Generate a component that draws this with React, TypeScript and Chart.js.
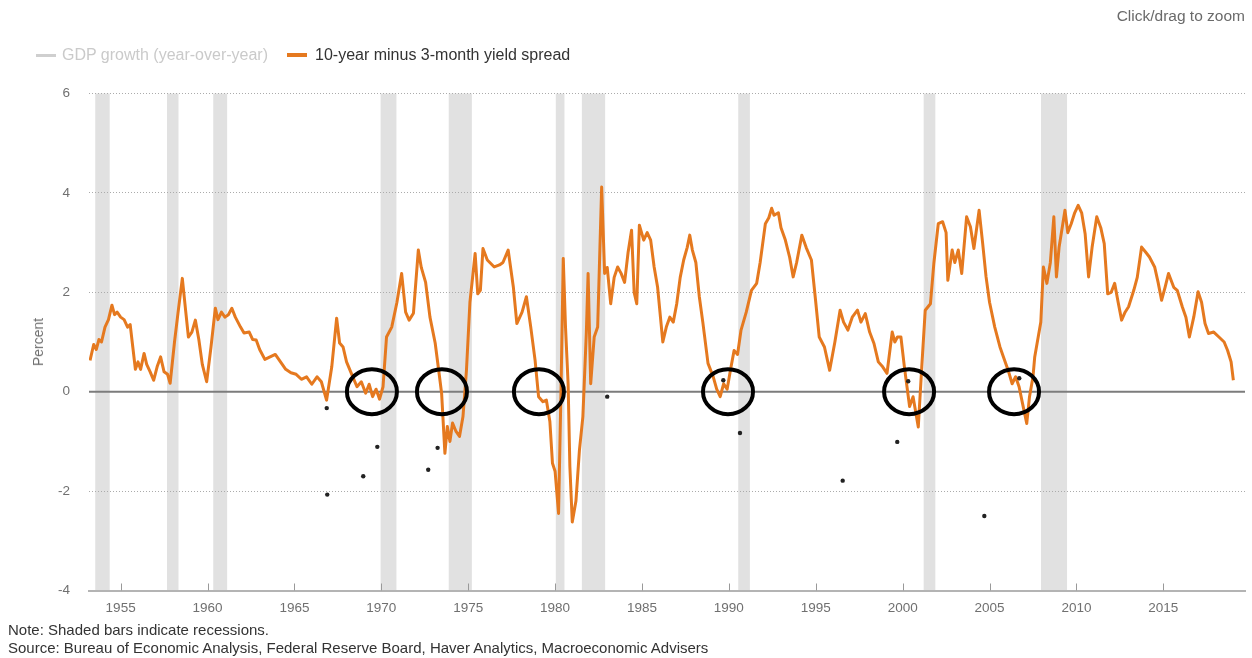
import React, { useEffect, useRef } from "react";
import { Chart, registerables } from "chart.js";
Chart.register(...registerables);

// 10-year minus 3-month yield spread (percent)
const spreadYears = [
  1953.24, 1953.45, 1953.6, 1953.75, 1953.9, 1954.1, 1954.3, 1954.5, 1954.65, 1954.8,
  1955.0, 1955.2, 1955.4, 1955.55, 1955.7, 1955.85, 1956.0, 1956.15, 1956.35, 1956.5,
  1956.7, 1956.9, 1957.1, 1957.3, 1957.5, 1957.7, 1957.85, 1958.1, 1958.3, 1958.55,
  1958.75, 1958.9, 1959.1, 1959.3, 1959.5, 1959.7, 1959.95, 1960.2, 1960.45, 1960.6,
  1960.8, 1961.0, 1961.2, 1961.4, 1961.6, 1961.9, 1962.1, 1962.4, 1962.6, 1962.8,
  1963.0, 1963.3, 1963.6, 1963.9, 1964.2, 1964.5, 1964.8, 1965.1, 1965.4, 1965.7,
  1966.0, 1966.3, 1966.55, 1966.85, 1967.15, 1967.43, 1967.6, 1967.8, 1968.0, 1968.3,
  1968.6, 1968.85, 1969.1, 1969.3, 1969.5, 1969.7, 1969.9, 1970.1, 1970.3, 1970.6,
  1970.9, 1971.17, 1971.4, 1971.6, 1971.85, 1972.13, 1972.3, 1972.55, 1972.8, 1973.1,
  1973.35, 1973.47, 1973.66, 1973.8, 1973.95, 1974.1, 1974.3, 1974.5, 1974.7, 1974.9,
  1975.1, 1975.4, 1975.55, 1975.7, 1975.85, 1976.1, 1976.5, 1976.8, 1977.0, 1977.3,
  1977.6, 1977.8, 1978.1, 1978.35, 1978.6, 1978.85, 1979.05, 1979.3, 1979.5, 1979.7,
  1979.85, 1980.0, 1980.2, 1980.35, 1980.47, 1980.6, 1980.75, 1980.85, 1980.99, 1981.2,
  1981.4, 1981.6, 1981.8, 1981.9, 1982.05, 1982.25, 1982.45, 1982.68, 1982.85, 1983.0,
  1983.2, 1983.4, 1983.6, 1983.8, 1984.0, 1984.2, 1984.4, 1984.55, 1984.7, 1984.85,
  1985.1, 1985.3, 1985.5, 1985.7, 1985.9, 1986.2, 1986.4, 1986.6, 1986.8, 1987.0,
  1987.2, 1987.4, 1987.6, 1987.75, 1987.9, 1988.1, 1988.3, 1988.5, 1988.8, 1989.1,
  1989.3, 1989.5, 1989.7, 1989.9, 1990.1, 1990.3, 1990.5, 1990.7, 1991.0, 1991.3,
  1991.6, 1991.8, 1992.1, 1992.3, 1992.46, 1992.6, 1992.85, 1993.0, 1993.25, 1993.5,
  1993.7, 1993.9, 1994.2, 1994.45, 1994.75, 1995.0, 1995.2, 1995.5, 1995.8, 1996.1,
  1996.4, 1996.6, 1996.85, 1997.1, 1997.4, 1997.6, 1997.85, 1998.1, 1998.35, 1998.6,
  1998.85, 1999.1, 1999.4, 1999.55, 1999.7, 1999.9, 2000.1, 2000.4, 2000.6, 2000.9,
  2001.1, 2001.3, 2001.6, 2001.8, 2002.05, 2002.3, 2002.5, 2002.6, 2002.85, 2003.0,
  2003.2, 2003.4, 2003.68, 2003.9, 2004.1, 2004.4, 2004.6, 2004.8, 2005.0, 2005.3,
  2005.6, 2005.8, 2006.1, 2006.3, 2006.5, 2006.7, 2006.9, 2007.14, 2007.3, 2007.5,
  2007.6, 2007.8, 2007.95, 2008.1, 2008.3, 2008.5, 2008.7, 2008.85, 2009.0, 2009.34,
  2009.5, 2009.7, 2009.9, 2010.1, 2010.3, 2010.5, 2010.7, 2010.9, 2011.17, 2011.4,
  2011.6, 2011.8, 2012.0, 2012.2, 2012.4, 2012.6, 2012.8, 2013.0, 2013.3, 2013.5,
  2013.75, 2014.0, 2014.2, 2014.5, 2014.7, 2014.9, 2015.1, 2015.3, 2015.6, 2015.8,
  2016.1, 2016.3, 2016.5, 2016.75, 2017.0, 2017.2, 2017.4, 2017.6, 2017.9, 2018.2,
  2018.5, 2018.7, 2018.9, 2019.03,
];
const spreadValues = [
  0.63, 0.95, 0.85, 1.05, 1.0, 1.3, 1.45, 1.74, 1.55, 1.6,
  1.5, 1.45, 1.3, 1.35, 0.9, 0.45, 0.6, 0.45, 0.77, 0.55,
  0.4, 0.23, 0.5, 0.7, 0.4, 0.35, 0.17, 1.0, 1.58, 2.28,
  1.6, 1.1, 1.2, 1.44, 1.05, 0.55, 0.2, 0.9, 1.68, 1.45,
  1.6, 1.5, 1.55, 1.68, 1.5, 1.3, 1.18, 1.2, 1.05, 1.04,
  0.85, 0.65, 0.7, 0.75, 0.6, 0.45, 0.38, 0.35, 0.25, 0.3,
  0.15, 0.3, 0.2, -0.17, 0.5, 1.48, 0.98, 0.9, 0.6, 0.35,
  0.1, 0.2, -0.03, 0.15, -0.1, 0.05, -0.15, 0.1, 1.1, 1.3,
  1.8, 2.38, 1.6, 1.44, 1.58, 2.85, 2.5, 2.2, 1.5, 0.98,
  0.3, -0.03, -1.24, -0.7, -1.0, -0.63, -0.8, -0.9, -0.5, 0.43,
  1.8, 2.78, 1.97, 2.04, 2.88, 2.65, 2.51, 2.55, 2.6, 2.85,
  2.1, 1.37, 1.6, 1.91, 1.3, 0.63, -0.1, -0.2, -0.17, -0.6,
  -1.44, -1.6, -2.45, 0.2, 2.68, 1.3, 0.16, -1.5, -2.62, -2.2,
  -1.18, -0.5, 1.2, 2.38, 0.16, 1.1, 1.3, 4.12, 2.38, 2.5,
  1.77, 2.3, 2.51, 2.38, 2.2, 2.8, 3.25, 2.0, 1.77, 3.35,
  3.05, 3.2, 3.05, 2.51, 2.1, 1.0, 1.3, 1.5, 1.4, 1.77,
  2.3, 2.65, 2.9, 3.15, 2.85, 2.6, 1.91, 1.4, 0.57, 0.3,
  0.05, -0.1, 0.16, 0.05, 0.45, 0.83, 0.75, 1.24, 1.6, 2.04,
  2.18, 2.6, 3.38, 3.5, 3.69, 3.55, 3.6, 3.3, 3.05, 2.7,
  2.31, 2.6, 3.15, 2.9, 2.65, 1.8, 1.1, 0.9, 0.43, 1.0,
  1.64, 1.4, 1.24, 1.5, 1.64, 1.4, 1.57, 1.2, 0.97, 0.6,
  0.5, 0.37, 1.2, 1.0, 1.1, 1.1, 0.5, -0.3, -0.1, -0.71,
  0.5, 1.64, 1.77, 2.6, 3.38, 3.42, 3.2, 2.24, 2.85, 2.6,
  2.85, 2.38, 3.52, 3.32, 2.88, 3.65, 3.0, 2.31, 1.8, 1.3,
  0.9, 0.7, 0.4, 0.16, 0.3, 0.1, -0.24, -0.64, -0.1, 0.3,
  0.7, 1.1, 1.4, 2.51, 2.18, 2.6, 3.52, 2.31, 2.9, 3.65,
  3.2, 3.38, 3.6, 3.75, 3.6, 3.18, 2.31, 2.9, 3.52, 3.3,
  2.98, 1.97, 2.0, 2.18, 1.8, 1.44, 1.6, 1.71, 2.04, 2.3,
  2.91, 2.8, 2.71, 2.51, 2.2, 1.84, 2.1, 2.38, 2.1, 2.04,
  1.7, 1.5, 1.1, 1.5, 2.01, 1.8, 1.37, 1.17, 1.2, 1.1,
  1.0, 0.83, 0.6, 0.23,
];

// small dark dots
const dotYears = [1966.86, 1966.89, 1968.96, 1969.77, 1972.7, 1973.24, 1983.0, 1989.68, 1990.64, 1996.55, 1999.69, 2000.32, 2004.7, 2006.71];
const dotValues = [-0.33, -2.07, -1.7, -1.11, -1.57, -1.13, -0.1, 0.23, -0.83, -1.79, -1.01, 0.21, -2.5, 0.27];

// recessions (shaded bars)
const recessionStarts = [1953.54, 1957.67, 1960.33, 1969.96, 1973.88, 1980.04, 1981.54, 1990.54, 2001.21, 2007.96];
const recessionEnds = [1954.37, 1958.33, 1961.13, 1970.87, 1975.21, 1980.54, 1982.88, 1991.21, 2001.88, 2009.46];

// hand-drawn circles around the zero line
const circleYears = [1969.46, 1973.49, 1979.07, 1989.95, 2000.37, 2006.41];

const xTickYears = [1955, 1960, 1965, 1970, 1975, 1980, 1985, 1990, 1995, 2000, 2005, 2010, 2015];
const yTicks = [-4, -2, 0, 2, 4, 6];

const FONT = '"Liberation Sans", Arial, sans-serif';
const ORANGE = "#E5791F";

export default function App() {
  const ref = useRef<HTMLCanvasElement>(null);

  useEffect(() => {
    const overlay = {
      id: "overlay",
      beforeDraw(chart: any) {
        const { ctx, chartArea, scales } = chart;
        const xs = scales.x;
        ctx.save();
        ctx.fillStyle = "#e1e1e1";
        recessionStarts.forEach((s, i) => {
          const x1 = xs.getPixelForValue(s);
          const x2 = xs.getPixelForValue(recessionEnds[i]);
          ctx.fillRect(x1, chartArea.top, x2 - x1, chartArea.bottom - chartArea.top);
        });
        ctx.restore();
      },
      beforeDatasetsDraw(chart: any) {
        const { ctx, chartArea, scales } = chart;
        const y0 = scales.y.getPixelForValue(0);
        ctx.save();
        ctx.strokeStyle = "#7c7c7c";
        ctx.lineWidth = 2;
        ctx.beginPath();
        ctx.moveTo(chartArea.left, y0);
        ctx.lineTo(chartArea.right, y0);
        ctx.stroke();
        ctx.restore();
      },
      afterDatasetsDraw(chart: any) {
        const { ctx, scales } = chart;
        const y0 = scales.y.getPixelForValue(0);
        ctx.save();
        ctx.strokeStyle = "#000";
        ctx.lineWidth = 4;
        circleYears.forEach((yr) => {
          const cx = scales.x.getPixelForValue(yr);
          ctx.beginPath();
          ctx.ellipse(cx, y0, 25, 22.5, 0, 0, Math.PI * 2);
          ctx.stroke();
        });
        ctx.restore();
      },
      afterDraw(chart: any) {
        const { ctx, chartArea, scales } = chart;
        ctx.save();
        ctx.strokeStyle = "#999";
        ctx.lineWidth = 1;
        xTickYears.forEach((yr) => {
          const x = Math.round(scales.x.getPixelForValue(yr)) + 0.5;
          ctx.beginPath();
          ctx.moveTo(x, chartArea.bottom);
          ctx.lineTo(x, chartArea.bottom - 7);
          ctx.stroke();
        });
        ctx.restore();
      },
    };

    const chart = new Chart(ref.current as HTMLCanvasElement, {
      type: "line",
      data: {
        datasets: [
          {
            type: "scatter",
            label: "dots",
            data: dotYears.map((x, i) => ({ x, y: dotValues[i] })),
            pointRadius: 2.2,
            pointBackgroundColor: "#222",
            pointBorderWidth: 0,
            showLine: false,
          } as any,
          {
            label: "10-year minus 3-month yield spread",
            data: spreadYears.map((x, i) => ({ x, y: spreadValues[i] })),
            borderColor: ORANGE,
            borderWidth: 3,
            pointRadius: 0,
            tension: 0,
            borderJoinStyle: "round",
            fill: false,
          },
        ],
      },
      options: {
        animation: false,
        responsive: false,
        devicePixelRatio: 1,
        layout: { padding: { top: 93.5, left: 0, right: 7, bottom: 0 } },
        plugins: { legend: { display: false }, tooltip: { enabled: false } },
        scales: {
          x: {
            type: "linear",
            min: 1953.18,
            max: 2019.7,
            afterFit(scale: any) {
              scale.height = 67.5;
            },
            afterBuildTicks(scale: any) {
              scale.ticks = xTickYears.map((v) => ({ value: v }));
            },
            grid: { display: false, drawTicks: false },
            border: { display: true, color: "#b4b4b4", width: 2 },
            ticks: {
              padding: 10,
              color: "#707070",
              font: { family: FONT, size: 13.5 },
              maxRotation: 0,
              autoSkip: false,
              callback: (v: any) => String(v),
            },
          },
          y: {
            type: "linear",
            min: -4,
            max: 6,
            afterFit(scale: any) {
              scale.width = 89;
            },
            afterBuildTicks(scale: any) {
              scale.ticks = yTicks.map((v) => ({ value: v }));
            },
            grid: {
              drawTicks: false,
              color: (c: any) => (c.tick && (c.tick.value === 0 || c.tick.value === -4) ? "rgba(0,0,0,0)" : "#ababab"),
              lineWidth: 1,
            },
            border: { display: false, dash: [1, 2] },
            ticks: {
              padding: 19,
              color: "#707070",
              font: { family: FONT, size: 13.5 },
              callback: (v: any) => String(v),
            },
          },
        },
      },
      plugins: [overlay],
    });
    return () => chart.destroy();
  }, []);

  const textBase: React.CSSProperties = { position: "absolute", fontFamily: FONT, whiteSpace: "nowrap", lineHeight: "18px" };

  return (
    <div style={{ position: "absolute", left: 0, top: 0, width: 1252, height: 658, background: "#fff", overflow: "hidden" }}>
      <canvas ref={ref} width={1252} height={658} style={{ position: "absolute", left: 0, top: 0, width: 1252, height: 658 }} />
      <div style={{ ...textBase, right: 7, top: 7, fontSize: 15.5, color: "#6a6a6a" }}>Click/drag to zoom</div>
      <span style={{ position: "absolute", left: 36, top: 54, width: 20, height: 3, background: "#cfcfcf" }} />
      <div style={{ ...textBase, left: 62, top: 46, fontSize: 16, color: "#cacaca" }}>GDP growth (year-over-year)</div>
      <span style={{ position: "absolute", left: 287, top: 53, width: 20, height: 4, background: ORANGE }} />
      <div style={{ ...textBase, left: 315, top: 46, fontSize: 16, color: "#333" }}>10-year minus 3-month yield spread</div>
      <div style={{ ...textBase, left: 38, top: 342, fontSize: 14, color: "#707070", transform: "translate(-50%, -50%) rotate(-90deg)" }}>Percent</div>
      <div style={{ ...textBase, left: 8, top: 621, fontSize: 15, color: "#333" }}>Note: Shaded bars indicate recessions.</div>
      <div style={{ ...textBase, left: 8, top: 639, fontSize: 15, color: "#333" }}>
        Source: Bureau of Economic Analysis, Federal Reserve Board, Haver Analytics, Macroeconomic Advisers
      </div>
    </div>
  );
}
